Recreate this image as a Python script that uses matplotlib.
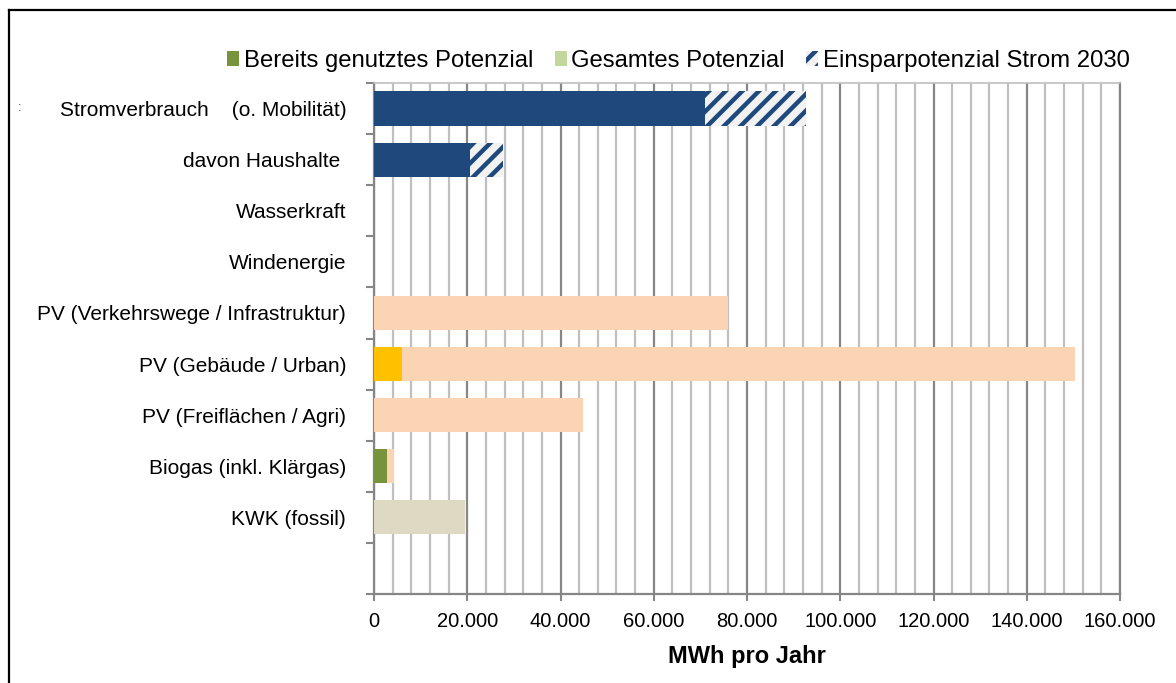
import matplotlib.pyplot as plt
from matplotlib.patches import Patch
from matplotlib.lines import Line2D
from matplotlib.ticker import FuncFormatter, MultipleLocator

plt.rcParams['font.family'] = ['Liberation Sans', 'DejaVu Sans']
plt.rcParams['hatch.linewidth'] = 3.2
plt.rcParams['hatch.color'] = '#1F497D'

# --------------------------
# Daten (MWh pro Jahr)
# --------------------------
kategorien = ["Stromverbrauch    (o. Mobilität)", "davon Haushalte ", "Wasserkraft",
              "Windenergie", "PV (Verkehrswege / Infrastruktur)", "PV (Gebäude / Urban)",
              "PV (Freiflächen / Agri)", "Biogas (inkl. Klärgas)", "KWK (fossil)", ""]
verbrauch = [71000, 20600, 0, 0, 0, 0, 0, 0, 0, 0]
einsparung = [21700, 7100, 0, 0, 0, 0, 0, 0, 0, 0]
genutzt = [0, 0, 0, 0, 0, 6000, 0, 2800, 0, 0]
gesamt = [0, 0, 0, 0, 75900, 150300, 44800, 4300, 19500, 0]

# Farben je Balken
farbe_genutzt = ['#77933C'] * 10
farbe_genutzt[5] = '#FFC000'
farbe_gesamt = ['#FBD4B4'] * 10
farbe_gesamt[8] = '#DDD9C3'

y = list(range(len(kategorien)))
rest = [g - n for g, n in zip(gesamt, genutzt)]

fig = plt.figure(figsize=(11.76, 6.83), dpi=100)
ax = fig.add_axes([374 / 1176, 1 - 594 / 683, (1120 - 374) / 1176, (594 - 83) / 683])

h = 0.67
ax.barh(y, verbrauch, height=h, color='#1F497D', zorder=3)
ax.barh(y, einsparung, left=verbrauch, height=h, color='#F2F2F2', hatch='//',
        edgecolor='#1F497D', linewidth=0, zorder=3)
ax.barh(y, genutzt, height=h, color=farbe_genutzt, zorder=3)
ax.barh(y, rest, left=genutzt, height=h, color=farbe_gesamt, zorder=3)

# Achsen
ax.set_xlim(0, 160000)
ax.set_ylim(len(kategorien) - 0.5, -0.5)
ax.set_yticks(y)
ax.set_yticklabels(kategorien, fontsize=15)
ax.set_yticks([i - 0.5 for i in range(len(kategorien) + 1)], minor=True)
ax.tick_params(axis='y', which='major', length=0, pad=20)
ax.tick_params(axis='y', which='minor', length=6, width=1.5, color='#868686')

ax.xaxis.set_major_locator(MultipleLocator(20000))
ax.xaxis.set_minor_locator(MultipleLocator(4000))
ax.xaxis.set_major_formatter(FuncFormatter(lambda v, p: f"{int(v):,}".replace(",", ".")))
ax.tick_params(axis='x', which='major', length=5, width=1.5, color='#868686',
               labelsize=14.5, pad=8)
ax.tick_params(axis='x', which='minor', length=0)
ax.set_xlabel("MWh pro Jahr", fontsize=17, fontweight='bold', labelpad=10)

ax.grid(axis='x', which='minor', color='#BFBFBF', lw=1.6, zorder=0)
ax.grid(axis='x', which='major', color='#868686', lw=1.6, zorder=0)
ax.set_axisbelow(True)

for s in ['left', 'bottom', 'right']:
    ax.spines[s].set_color('#868686')
    ax.spines[s].set_linewidth(1.6)
ax.spines['top'].set_color('#BFBFBF')
ax.spines['top'].set_linewidth(1.2)

# Legende
handles = [Patch(facecolor='#77933C'), Patch(facecolor='#C3D69B'),
           Patch(facecolor='#F2F2F2', hatch='//', edgecolor='#1F497D', linewidth=0)]
labels = ["Bereits genutztes Potenzial", "Gesamtes Potenzial", "Einsparpotenzial Strom 2030"]
fig.legend(handles, labels, loc='center', bbox_to_anchor=(0.577, 1 - 61 / 683), ncol=3,
           frameon=False, fontsize=17.2, handlelength=0.5, handleheight=0.55,
           handletextpad=0.2, columnspacing=0.9)

# kleines Zeichen links und Rahmen
fig.text(18 / 1176, 1 - 108 / 683, ":", fontsize=9, va='center', color='#404040')
fig.add_artist(Line2D([8.5 / 1176, 1], [1 - 9.5 / 683, 1 - 9.5 / 683], color='black', lw=1.6))
fig.add_artist(Line2D([8.5 / 1176, 8.5 / 1176], [0, 1 - 9.5 / 683], color='black', lw=1.6))

plt.savefig("out.png", dpi=100)
